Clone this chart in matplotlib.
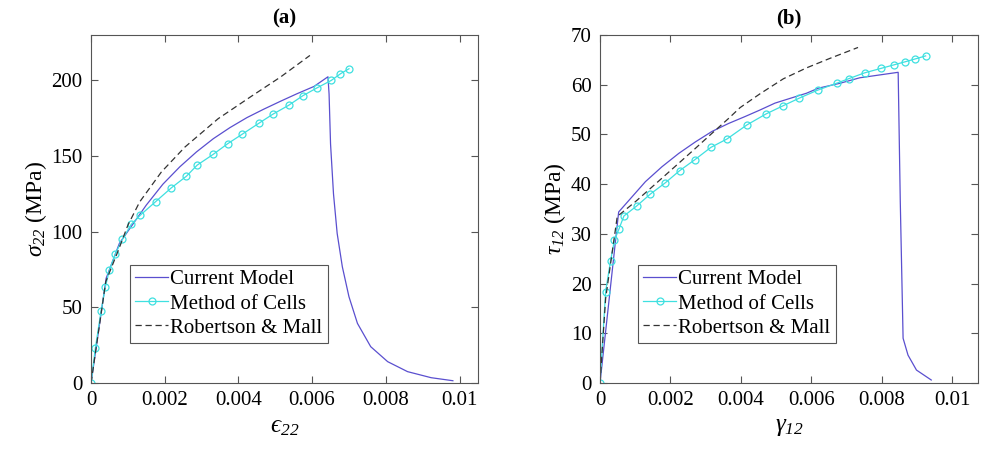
import numpy as np
import matplotlib
matplotlib.use("Agg")
import matplotlib.pyplot as plt

plt.rcParams['font.family'] = ['Liberation Serif', 'DejaVu Serif']
plt.rcParams['mathtext.fontset'] = 'custom'
plt.rcParams['mathtext.rm'] = 'Liberation Serif'
plt.rcParams['mathtext.it'] = 'Liberation Serif:italic'
plt.rcParams['mathtext.bf'] = 'Liberation Serif:bold'
# italic digits for subscripts go through the sf slot
plt.rcParams['mathtext.sf'] = 'Liberation Serif:italic'
plt.rcParams['mathtext.fallback'] = 'stix'

# (a) transverse tension: strain vs stress (MPa)
cm_a_x = [0, 0.00038, 0.00041, 0.00077, 0.0015, 0.00195, 0.00241, 0.00286, 0.00332, 0.00377,
          0.00423, 0.00468, 0.00514, 0.00559, 0.00605, 0.00643, 0.00646, 0.0065, 0.00658,
          0.00668, 0.00682, 0.0070, 0.00723, 0.00759, 0.00805, 0.00859, 0.00923, 0.00982]
cm_a_y = [0, 64, 69.2, 92.3, 117.6, 131.4, 142.9, 152.7, 161.5, 168.8,
          175.4, 180.9, 186.2, 191.2, 196.0, 202.4, 191.0, 158.0, 125.0,
          98.8, 76.8, 57.0, 39.4, 24.0, 14.1, 7.5, 3.5, 1.5]

moc_a_x = [0, 0.000118, 0.00027, 0.00039, 0.0005, 0.00066, 0.00085, 0.00109, 0.00134, 0.00175,
           0.00218, 0.00259, 0.00288, 0.00332, 0.00371, 0.0041, 0.00455, 0.00493, 0.00536,
           0.00575, 0.00612, 0.00652, 0.00677, 0.0070]
moc_a_y = [0, 23.1, 47.3, 63.7, 74.7, 85.3, 94.9, 104.8, 111.0, 119.8,
           129.0, 136.7, 144.0, 151.2, 158.2, 164.4, 171.6, 177.6, 183.5,
           189.9, 194.9, 200.0, 204.4, 207.7]

rm_a_x = [0, 0.0004, 0.00073, 0.001, 0.00132, 0.00191, 0.00255, 0.00345, 0.00432, 0.00514, 0.00594]
rm_a_y = [0, 67, 87, 104.3, 119.7, 139.5, 156.0, 174.7, 189.0, 202.2, 216.5]

# (b) in-plane shear: shear strain vs shear stress (MPa)
cm_b_x = [0, 0.00053, 0.00129, 0.00176, 0.00224, 0.00271, 0.00318, 0.00365, 0.00412, 0.00454,
          0.00497, 0.00587, 0.0062, 0.00682, 0.00738, 0.00847, 0.00853, 0.00861, 0.00875,
          0.00899, 0.00941]
cm_b_y = [0, 34.4, 40.5, 43.5, 46.2, 48.5, 50.6, 52.2, 53.6, 54.9,
          56.3, 58.3, 59.3, 60.3, 61.4, 62.5, 36.5, 9.0, 5.6,
          2.6, 0.6]

moc_b_x = [0, 0.00016, 0.0003, 0.00041, 0.00054, 0.00068, 0.00104, 0.00143, 0.00186, 0.00226,
           0.00269, 0.00315, 0.00361, 0.00417, 0.00471, 0.00521, 0.00566, 0.00618, 0.00672,
           0.00706, 0.00752, 0.00799, 0.00835, 0.00866, 0.00896, 0.00925]
moc_b_y = [0, 18.4, 24.6, 28.7, 31.0, 33.6, 35.6, 38.0, 40.3, 42.7,
           44.9, 47.4, 49.1, 51.9, 54.1, 55.8, 57.3, 58.9, 60.3,
           61.2, 62.4, 63.3, 64.0, 64.6, 65.2, 65.8]

rm_b_x = [0, 0.00016, 0.00049, 0.00101, 0.00176, 0.00271, 0.00313, 0.00365, 0.00398, 0.00455,
          0.00521, 0.00587, 0.00653, 0.00733]
rm_b_y = [0, 17, 33.5, 36.5, 41.2, 47.2, 49.9, 53.2, 55.4, 58.2,
          61.2, 63.4, 65.3, 67.5]

cm_color = '#5a4fcf'
moc_color = '#3fe0e0'
fs = 15

fig = plt.figure(figsize=(9.82, 4.59), dpi=100)
ax1 = fig.add_axes([0.0927, 0.1656, 0.394, 0.7581])
ax2 = fig.add_axes([0.611, 0.1656, 0.385, 0.7581])


def style(ax, xmax, ymax, yticks, title, xlabel, ylabel):
    ax.set_xlim(0, xmax)
    ax.set_ylim(0, ymax)
    ax.set_xticks([0, 0.002, 0.004, 0.006, 0.008, 0.01])
    ax.set_xticklabels(['0', '0.002', '0.004', '0.006', '0.008', '0.01'])
    ax.set_yticks(yticks)
    ax.tick_params(direction='in', top=True, right=True, length=5, width=0.8,
                   labelsize=fs, colors='#555555', labelcolor='black', pad=6)
    for s in ax.spines.values():
        s.set_color('#555555')
        s.set_linewidth(0.8)
    ax.set_title(title, fontsize=fs, fontweight='bold', pad=8)
    ax.set_xlabel(xlabel, fontsize=fs + 3, labelpad=4)
    ax.set_ylabel(ylabel, fontsize=fs + 2, labelpad=2)
    leg = ax.legend(loc='lower left', bbox_to_anchor=(0.1, 0.115), fontsize=fs,
                    handlelength=1.6, handletextpad=0.1, borderpad=0.25,
                    labelspacing=0.22, fancybox=False, framealpha=1, borderaxespad=0)
    leg.get_frame().set_edgecolor('#555555')
    leg.get_frame().set_linewidth(0.8)


for ax, cx, cy, mx, my, rx, ry in [(ax1, cm_a_x, cm_a_y, moc_a_x, moc_a_y, rm_a_x, rm_a_y),
                                   (ax2, cm_b_x, cm_b_y, moc_b_x, moc_b_y, rm_b_x, rm_b_y)]:
    ax.plot(cx, cy, '-', color=cm_color, lw=0.9, label='Current Model')
    ax.plot(mx, my, '-o', color=moc_color, lw=0.9, ms=5, mfc='none', mew=0.9,
            label='Method of Cells')
    ax.plot(rx, ry, '--', color='#333333', lw=0.9, dashes=(5, 3), label='Robertson & Mall')

style(ax1, 0.0105, 230, [0, 50, 100, 150, 200], '(a)',
      r'$\mathsf{ϵ}_{\mathsf{22}}$', r'$\sigma_{\mathsf{22}}$ (MPa)')
style(ax2, 0.01074, 70, [0, 10, 20, 30, 40, 50, 60, 70], '(b)',
      r'$\gamma_{\mathsf{12}}$', r'$\tau_{\mathsf{12}}$ (MPa)')

fig.savefig('out.png', dpi=100)
